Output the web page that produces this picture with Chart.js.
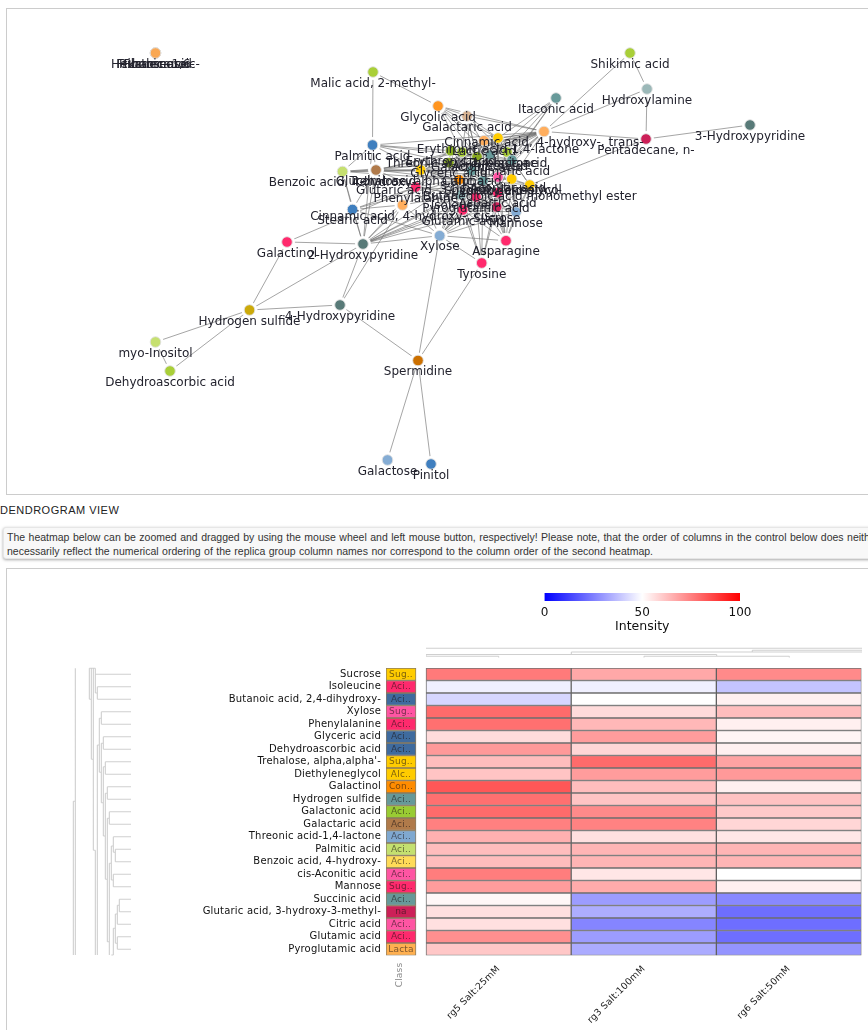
<!DOCTYPE html>
<html><head><meta charset="utf-8">
<script src="https://cdn.jsdelivr.net/npm/chart.js@4/dist/chart.umd.min.js"></script>
<style>
html,body{margin:0;padding:0;background:#fff;overflow:hidden;width:868px;height:1030px}
canvas{position:absolute;display:block}
.panel{position:absolute;left:6px;width:900px;border:1px solid #ccc;box-sizing:border-box;background:#fff}
#h{position:absolute;left:0;top:504px;font:11px "Liberation Sans",Arial,sans-serif;color:#222;letter-spacing:.5px;white-space:nowrap}
#note{position:absolute;left:3px;top:527px;width:900px;height:32px;box-sizing:border-box;background:#f8f8f8;border:1px solid #e6e6e6;border-radius:3px;box-shadow:0 1px 3px rgba(0,0,0,.35);font:10.5px/14px "Liberation Sans",Arial,sans-serif;color:#333;padding:2px 3px;white-space:nowrap;word-spacing:.55px}
</style></head><body>
<div class="panel" style="top:8px;height:487px"></div>
<div id="h">DENDROGRAM VIEW</div>
<div id="note">The heatmap below can be zoomed and dragged by using the mouse wheel and left mouse button, respectively! Please note, that the order of columns in the control below does neither<br>necessarily reflect the numerical ordering of the replica group column names nor correspond to the column order of the second heatmap.</div>
<div class="panel" style="top:568px;height:600px"></div>
<canvas id="net" width="868" height="494" style="left:0;top:0"></canvas>
<canvas id="bar" width="250" height="46" style="left:520px;top:588px"></canvas>
<canvas id="topd" width="436" height="15" style="left:426px;top:645px"></canvas>
<canvas id="rowd" width="75" height="300" style="left:60px;top:660px"></canvas>
<canvas id="heat" width="868" height="370" style="left:0;top:660px"></canvas>
<script>
// ---------- network ----------
const nodeNames = ["Hexadecanoic-","Fructose-1,6-","Rhamnose","Ribonic acid","Shikimic acid","Hydroxylamine","Itaconic acid","3-Hydroxypyridine","Pentadecane, n-","Cinnamic acid, 4-hydroxy-, trans-",
"Malic acid, 2-methyl-","Glycolic acid","Galactaric acid","Palmitic acid","Benzoic acid, 4-hydroxy-","Gluconic acid","Stearic acid","Cinnamic acid, 4-hydroxy-, cis-","Galactinol","2-Hydroxypyridine",
"Xylose","Asparagine","Tyrosine","Hydrogen sulfide","4-Hydroxypyridine","myo-Inositol","Dehydroascorbic acid","Spermidine","Galactose","Pinitol",
"Lactic acid","Erythronic acid-1,4-lactone","Erythronic acid","Threonic acid-1,4-lactone","Galactonic acid","Aconitic acid","Threonic acid","Fumaric acid","Glyceric acid","Trehalose, alpha,alpha'-",
"Citric acid","cis-Aconitic acid","Diethyleneglycol","Butanedioic acid monomethyl ester","Glutaric acid, 3-hydroxy-3-methyl-","Succinic acid","Phenylalanine","Aspartic acid","Isoleucine","Pyroglutamic acid",
"Glutamic acid","Sucrose","Mannose"];
const nodeX = [155.5,155.5,155.5,155.5,630,647,556,750,646,544,373,438,467,372.5,342.5,376,352.5,402.5,287,363,439.7,506,481.7,249.5,340,155.5,170,418,387.5,431,
484,498,450.7,462,477,490,507,512,449,420.7,471.7,498,511.7,529.7,459,483,415.7,497.7,461,476,462.7,496.7,516];
const nodeY = [53,53,53,53,53,89,98,125,139,131.5,72,106,116,145,171.5,170,209.5,205,242,244,235.7,240.7,263,310,305,342,371,360.5,460,464,
140.7,138,150.7,152,156.7,155,152,160,162.7,170,170.7,177,179,185,179.7,180.7,187,192.7,194.7,197,210,207,212];
const nodeColors = ["#f9a854","#f9a854","#f9a854","#f9a854","#a9cf38","#9bb8b8","#689a9a","#587a78","#cc2058","#ffae5e",
"#a9cf38","#ff9520","#d8b494","#3f7fbf","#c6e070","#b07a4a","#3f7fbf","#ffae5e","#ff2a6d","#587a78",
"#84acd4","#ff2a6d","#ff2a6d","#ccaa0a","#587a78","#c6e070","#a9cf38","#cc7000","#84acd4","#3f7fbf",
"#ffae5e","#ffcc00","#88b020","#a9cf38","#88a820","#689a9a","#a9cf38","#689a9a","#88a820","#ffcc00",
"#689a9a","#ff55a3","#ffcc00","#ffcc00","#ff8c00","#689a9a","#ff2a6d","#ff2a6d","#8cb0b0","#ff2a6d",
"#ff2a6d","#cc2058","#84acd4"];
const edgeList = [[4,9],[4,5],[5,9],[5,8],[9,8],[8,7],[8,43],[6,31],[6,35],[6,36],[6,37],[6,41],
[9,31],[9,30],[9,33],[9,34],[9,35],[9,36],[9,37],[9,32],[9,38],[9,39],[9,15],[9,13],[9,41],[9,42],[9,45],[9,12],[9,11],
[10,13],[10,11],[11,12],[11,33],[11,34],[11,31],[11,30],[11,35],[12,34],[12,33],[12,35],[12,45],[12,40],[12,31],[12,37],
[13,14],[13,15],[13,39],[13,32],[13,19],[13,38],[13,34],[14,15],[14,39],[14,38],[14,16],[14,19],[14,40],[14,44],
[15,39],[15,38],[15,40],[15,44],[15,19],[15,16],[15,46],[15,33],[16,19],[16,17],[16,46],[16,44],[16,20],
[17,19],[17,20],[17,46],[17,44],[17,48],[17,24],[18,19],[18,23],[18,46],[19,20],[19,23],[19,24],[19,50],[19,48],[19,44],[19,45],[19,51],[19,47],[19,46],[19,49],
[23,24],[23,25],[23,26],[25,26],[24,27],[27,20],[27,22],[27,28],[27,29],
[20,22],[20,21],[20,50],[20,51],[20,49],[20,47],[20,48],[20,45],[20,41],[20,44],[20,52],[20,46],
[21,41],[21,45],[21,47],[21,49],[21,50],[21,51],[21,52],[21,43],[21,42],[22,50],[22,49],[22,51],[22,47],[22,45],[22,48],
[31,30],[31,33],[31,34],[31,35],[31,36],[31,37],[31,40],[31,41],[31,42],[30,33],[30,34],[30,35],[30,36],[30,40],[30,45],
[32,33],[32,34],[32,38],[32,39],[32,40],[32,44],[33,34],[33,35],[33,38],[33,40],[33,45],
[34,35],[34,36],[34,37],[34,38],[34,40],[34,41],[34,44],[34,45],[34,46],[35,36],[35,37],[35,40],[35,41],[35,42],[35,45],
[36,37],[36,41],[36,42],[36,43],[37,41],[37,42],[37,43],[37,45],[37,47],[37,52],
[38,39],[38,40],[38,44],[38,45],[38,46],[38,48],[39,40],[39,44],[39,45],[39,46],[39,41],[39,47],[39,37],
[40,41],[40,44],[40,45],[40,47],[40,48],[40,49],[40,50],[40,51],[41,42],[41,43],[41,45],[41,47],[41,49],[41,51],[41,52],
[42,43],[42,45],[42,47],[42,51],[42,52],[43,47],[43,51],[43,52],[43,45],[44,45],[44,46],[44,48],[44,49],[44,50],
[45,47],[45,48],[45,49],[45,50],[45,51],[45,52],[46,48],[46,50],[46,49],[46,47],[47,49],[47,50],[47,51],[47,52],
[48,49],[48,50],[48,51],[49,50],[49,51],[49,52],[50,51],[50,52],[51,52]];

// ---------- heatmap ----------
const rowNames = ["Sucrose","Isoleucine","Butanoic acid, 2,4-dihydroxy-","Xylose","Phenylalanine","Glyceric acid","Dehydroascorbic acid","Trehalose, alpha,alpha'-","Diethyleneglycol","Galactinol","Hydrogen sulfide","Galactonic acid","Galactaric acid","Threonic acid-1,4-lactone","Palmitic acid","Benzoic acid, 4-hydroxy-","cis-Aconitic acid","Mannose","Succinic acid","Glutaric acid, 3-hydroxy-3-methyl-","Citric acid","Glutamic acid","Pyroglutamic acid"];
const classLabels = ["Sug..","Aci..","Aci..","Sug..","Aci..","Aci..","Aci..","Sug..","Alc..","Con..","Aci..","Aci..","Aci..","Aci..","Aci..","Aci..","Aci..","Sug..","Aci..","na","Aci..","Aci..","Lacta"];
const classColors = ["#ffcc00","#ff2a6d","#3f6b9e","#ff55a3","#ff2a6d","#3f6b9e","#3f6b9e","#ffcc00","#ffcc00","#ff8c00","#669999","#99cc33","#b07a4a","#7fa8d0","#c4e070","#ffdb58","#ff55a3","#ff2a6d","#669999","#cc2058","#ff55a3","#ff2a6d","#ffb050"];
const colNames = ["rg5 Salt:25mM","rg3 Salt:100mM","rg6 Salt:50mM"];
const rg5 = [76,47,42,79,78,57,70,63,61.5,83,78,79,75,65.5,63,63,75.5,69.5,51.5,56,56,72,61];
const rg3 = [67,47,50,57,64,69.5,58,79,69.5,63,61.5,73,74.5,56,64.5,64.5,55,66.5,30.5,34,26,30.5,33.5];
const rg6 = [73,38.5,53,63,53,52,53,68,70,53,62,60.5,58,55,64.5,64.5,50,53,26.7,21.5,21.5,21.5,29];
const colorbarTicks = [0,50,100];

// ---------- dendrograms ----------
const leafStart = [22,24,24,28,28,30,30,32,32,34,34,36,36,40,42,42,40,40,46,46,44,44,44];
const rowTree = [[2,-.48,2,22.45],[0,10.16,0,22.45],[0,10.16,2,10.16],[16,-.48,16,2],[16,2,18,2],[18,-.48,18,6.8],[18,6.8,20,6.8],[20,-.48,20,14.08],[20,14.08,22,14.08],[16,-.48,22,-.48],[22,-.48,22,1.5],[22,1.5,24,1.5],[22,14.08,22,22.45],[24,1,24,2],[24,5.65,24,22.45],[24,5.65,26,5.65],[26,3.52,26,7.84],[26,3.52,28,3.52],[26,7.84,28,7.84],[28,3,28,4],[28,5.52,28,10.27],[28,5.52,30,5.52],[28,10.27,30,10.27],[30,5,30,6],[30,7.39,30,12.93],[30,7.39,32,7.39],[30,12.93,32,12.93],[32,7,32,8],[32,9.52,32,16.4],[32,9.52,34,9.52],[32,16.4,34,16.4],[34,9,34,10],[34,11.52,34,21.39],[34,11.52,36,11.52],[34,21.39,36,21.39],[36,11,36,12],[36,15.12,36,22.45],[36,15.12,38,15.12],[38,13.73,38,16.45],[38,13.73,40,13.73],[38,16.45,40,16.45],[40,13,40,14.24],[40,14.24,42,14.24],[42,14,42,15],[40,16,40,17],[40,20.32,42,20.32],[42,19.17,42,21.52],[42,19.17,44,19.17],[42,21.52,44,21.52],[44,18.48,44,20],[44,18.48,46,18.48],[46,18,46,19],[44,21,44,22],[40,20.32,40,22.45],[38,22.45,40,22.45]];
const colTree = [[0,3.3,3,3.3],[2.245,5.3,3,5.3],[1,7,3,7],[0,9.5,2,9.5],[0,11.3,.5,11.3],[1.5,11.3,2.5,11.3],[1,7,1,9.5],[2,9.5,2,11.3],[2.245,5.3,2.245,7],[0,9.5,0,11.3],[.5,11.3,.5,12.5],[1.5,11.3,1.5,12.5],[2.5,11.3,2.5,12.5]];

Chart.defaults.animation = false;
Chart.defaults.responsive = false;
Chart.defaults.devicePixelRatio = 1;
Chart.defaults.plugins.legend.display = false;
Chart.defaults.plugins.tooltip.enabled = false;

const hidden = (min,max,reverse)=>({type:'linear',display:false,min,max,reverse:!!reverse});
const segData = segs => segs.flatMap(s=>[{x:s[0],y:s[1]},{x:s[2],y:s[3]},{x:NaN,y:NaN}]);

// network chart
const nodes = nodeNames.map((n,i)=>({x:nodeX[i],y:nodeY[i]}));
new Chart(document.getElementById('net'),{
  type:'scatter',
  data:{datasets:[
    {data:nodes,order:0,pointRadius:5.3,pointBorderWidth:1,pointBackgroundColor:nodeColors,pointBorderColor:'rgba(225,225,225,.9)'},
    {data:nodes,order:1,pointRadius:nodes.map((n,i)=>i<30?8:0),pointBorderWidth:0,pointBackgroundColor:'#fff'},
    ...edgeList.map(e=>({data:[nodes[e[0]],nodes[e[1]]],order:2,showLine:true,pointRadius:0,borderWidth:1,borderColor:'rgba(110,110,110,.62)'}))
  ]},
  options:{layout:{padding:0,autoPadding:false},clip:false,scales:{x:hidden(0,868),y:hidden(0,494,true)}},
  plugins:[{id:'nodeLabels',afterDraw(c){
    const ctx=c.ctx,xs=c.scales.x,ys=c.scales.y;
    ctx.save();ctx.font='12px "DejaVu Sans"';ctx.fillStyle='#23232e';ctx.textAlign='center';ctx.textBaseline='middle';
    nodeNames.forEach((n,i)=>ctx.fillText(n,xs.getPixelForValue(nodeX[i]),ys.getPixelForValue(nodeY[i])+11.5));
    ctx.restore();
  }}]
});

// colour scale
const heatColor = v => {
  const t=Math.abs(v-50)/50, c=Math.round(255*(1-t));
  return v>=50?`rgb(255,${c},${c})`:`rgb(${c},${c},255)`;
};
new Chart(document.getElementById('bar'),{
  type:'bar',
  data:{labels:['Intensity'],datasets:[{data:[[colorbarTicks[0],colorbarTicks[2]]],barPercentage:1,categoryPercentage:1,
    backgroundColor(ctx){
      const a=ctx.chart.chartArea; if(!a) return '#fff';
      const g=ctx.chart.ctx.createLinearGradient(a.left,0,a.right,0);
      g.addColorStop(0,heatColor(0));g.addColorStop(.5,heatColor(50));g.addColorStop(1,heatColor(100));return g;
    }}]},
  options:{indexAxis:'y',layout:{autoPadding:false,padding:{left:24.5,right:30,top:5}},
    scales:{y:{display:false},
      x:{type:'linear',min:0,max:100,grid:{display:false,drawTicks:false},border:{display:false},
        afterBuildTicks(s){s.ticks=colorbarTicks.map(value=>({value}));},
        afterFit(s){s.height=33;s.paddingLeft=0;s.paddingRight=0;},
        ticks:{padding:5,color:'#111',font:{family:'DejaVu Sans',size:12},maxRotation:0},
        title:{display:true,text:'Intensity',color:'#111',padding:{top:0,bottom:0},font:{family:'DejaVu Sans',size:12.5}}}}}
});

// column dendrogram
const dendroDs = segs => ({data:segData(segs),showLine:true,spanGaps:false,pointRadius:0,borderWidth:1.1,borderColor:'#cfcfcf'});
new Chart(document.getElementById('topd'),{type:'scatter',data:{datasets:[dendroDs(colTree)]},
  options:{layout:{padding:0,autoPadding:false},clip:false,scales:{x:hidden(0,3),y:hidden(0,15,true)}}});

// row dendrogram
const leaves = leafStart.map((d,i)=>[d,i,57.67,i]);
new Chart(document.getElementById('rowd'),{type:'scatter',data:{datasets:[dendroDs(leaves.concat(rowTree))]},
  options:{layout:{padding:0,autoPadding:false},clip:false,scales:{x:hidden(-13.33,61.67),y:hidden(-1.144,22.856,true)}}});

// heatmap
const cellDs = (vals,col)=>({data:vals.map(()=>[col,col+1]),backgroundColor:vals.map(heatColor),borderColor:'rgba(60,60,60,.72)',borderWidth:1,borderSkipped:false,barPercentage:1,categoryPercentage:1,grouped:false});
new Chart(document.getElementById('heat'),{
  type:'bar',
  data:{labels:rowNames,datasets:[
    {data:rowNames.map(()=>[-.2755,-.0689]),backgroundColor:classColors,borderColor:'rgba(70,45,0,.62)',borderWidth:1,borderSkipped:false,barPercentage:1,categoryPercentage:1,grouped:false},
    cellDs(rg5,0),cellDs(rg3,1),cellDs(rg6,2)]},
  options:{indexAxis:'y',layout:{autoPadding:false,padding:{top:8,right:6.5,left:0,bottom:0}},
    scales:{
      y:{type:'category',grid:{display:false,drawTicks:false},border:{display:false},
        afterFit(s){s.width=386;s.paddingTop=0;s.paddingBottom=0;},
        ticks:{autoSkip:false,padding:5,color:'#111',font:{family:'DejaVu Sans',size:10}}},
      x:{type:'linear',min:-.2755,max:3,grid:{display:false,drawTicks:false},border:{display:false},
        afterBuildTicks(s){s.ticks=colNames.map((n,i)=>({value:i+.5}));},
        afterFit(s){s.height=74.5;s.paddingLeft=0;s.paddingRight=0;},
        ticks:{autoSkip:false,minRotation:45,maxRotation:45,padding:8,color:'#222',font:{family:'DejaVu Sans',size:9.3},
          callback:(v)=>colNames[Math.floor(v)]}}}},
  plugins:[{id:'spacing',beforeDraw(c){c.ctx.letterSpacing='0.2px';}},
  {id:'classText',afterDraw(c){
    const ctx=c.ctx,xs=c.scales.x,ys=c.scales.y,cx=(xs.getPixelForValue(-.2755)+xs.getPixelForValue(-.0689))/2;
    ctx.save();ctx.font='9px "DejaVu Sans"';ctx.fillStyle='rgba(30,20,20,.6)';ctx.textAlign='center';ctx.textBaseline='middle';
    classLabels.forEach((t,i)=>ctx.fillText(t,cx,ys.getPixelForValue(i)));
    ctx.translate(cx-1,c.chartArea.bottom+19.5);ctx.rotate(-Math.PI/2);ctx.fillStyle='#8a8a8a';ctx.font='9px "DejaVu Sans"';ctx.fillText('Class',0,0);
    ctx.restore();
  }}]
});
</script>
</body></html>
